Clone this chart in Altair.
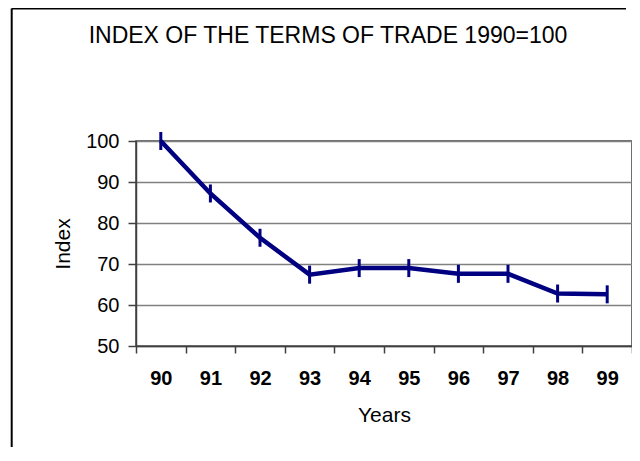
import altair as alt
import pandas as pd

years = ["90", "91", "92", "93", "94", "95", "96", "97", "98", "99"]
index_values = [100, 87.2, 76.4, 67.4, 69.0, 69.0, 67.6, 67.6, 62.8, 62.6]
y_ticks = [50, 60, 70, 80, 90, 100]

FONT = "Liberation Sans"
NAVY = "#000080"

df = pd.DataFrame({"Year": years, "Index": index_values})

x_enc = alt.X(
    "Year:O",
    title="Years",
    sort=years,
    scale=alt.Scale(type="band", paddingInner=0, paddingOuter=0),
    axis=alt.Axis(
        labelAngle=0,
        labelFontWeight="bold",
        labelFontSize=20,
        labelFont=FONT,
        labelColor="black",
        titleFont=FONT,
        titleFontSize=21,
        titleFontWeight="normal",
        titleColor="black",
        tickBand="extent",
        tickSize=7,
        tickColor="#404040",
        tickWidth=1.5,
        labelPadding=15.5,
        titlePadding=15.5,
        domainColor="#404040",
        domainWidth=1.5,
        grid=False,
    ),
)
y_enc = alt.Y(
    "Index:Q",
    title="Index",
    scale=alt.Scale(domain=[50, 100], nice=False, zero=False),
    axis=alt.Axis(
        values=y_ticks,
        labelFontSize=20,
        labelFont=FONT,
        labelColor="black",
        titleFont=FONT,
        titleFontSize=21,
        titleFontWeight="normal",
        titleColor="black",
        tickSize=8,
        tickColor="#404040",
        tickWidth=1.5,
        labelPadding=9,
        titlePadding=12,
        domainColor="#404040",
        domainWidth=1.5,
        grid=True,
        gridColor="#808080",
        gridWidth=1.5,
    ),
)

base = alt.Chart(df).encode(x=x_enc, y=y_enc)

line = base.mark_line(color=NAVY, strokeWidth=4.5)
markers = base.mark_point(
    shape="M0,-1L0,1",
    size=324,
    stroke=NAVY,
    strokeWidth=3,
    filled=False,
    opacity=1,
)

# outer frame of the original figure (only its left and top edges are in view)
frame_df = pd.DataFrame({"k": [0]})
frame_left = alt.Chart(frame_df).mark_rule(color="black", strokeWidth=2).encode(
    x=alt.value(-124.3),
    y=alt.value(-132.5),
    y2=alt.value(306),
)
frame_top = alt.Chart(frame_df).mark_rule(color="black", strokeWidth=2).encode(
    x=alt.value(-124.3),
    x2=alt.value(490),
    y=alt.value(-132.5),
)

chart = (
    alt.layer(line, markers, frame_left, frame_top)
    .properties(
        width=496,
        height=205,
        autosize="none",
        padding={"left": 128, "top": 133, "right": 0, "bottom": 107},
        title=alt.Title(
            "INDEX OF THE TERMS OF TRADE 1990=100",
            font=FONT,
            fontSize=23,
            fontWeight="normal",
            color="black",
            anchor="middle",
            frame="group",
            dx=-56,
            offset=-58.5,
            baseline="alphabetic",
        ),
        background="white",
    )
    .configure_view(stroke="#404040", strokeWidth=1.5)
)

chart.save("out.html", embed_options={"renderer": "svg", "actions": False})
